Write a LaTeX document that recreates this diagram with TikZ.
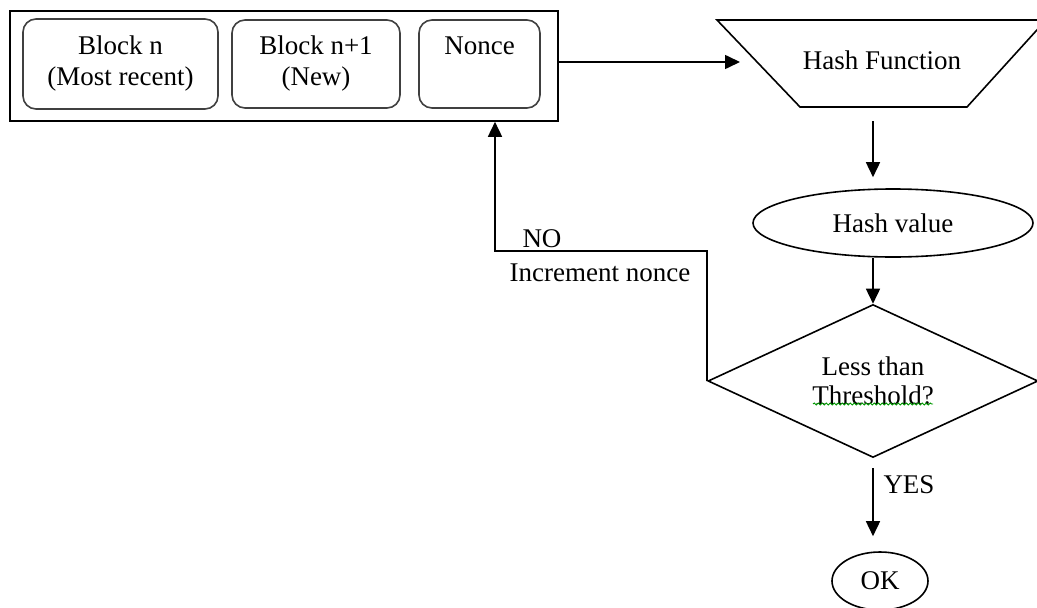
\documentclass[tikz,border=0pt]{standalone}
\usepackage{fontspec}
\setmainfont{Liberation Serif}
\usetikzlibrary{arrows.meta,shapes.geometric,decorations.pathmorphing}
\begin{document}
\begin{tikzpicture}[x=1pt,y=-1pt,
  font=\fontsize{27}{31}\selectfont,
  line/.style={line width=1.6pt, draw=black},
  arr/.style={line, -{Triangle[length=15pt,width=14pt]}},
  blockbox/.style={draw=black!75, line width=1.6pt, rounded corners=13pt,
    align=center, inner sep=0pt},
  oval/.style={line, ellipse, inner sep=0pt},
  label/.style={inner sep=0pt}
]
\useasboundingbox (0,0) rectangle (1037,608);
\clip (0,0) rectangle (1037,608);

% block group with its three members
\node[line, minimum width=548pt, minimum height=110pt, inner sep=0pt] (blocks) at (284,66) {};
\node[blockbox, minimum width=195pt, minimum height=90pt] (bn) at (120.5,64) {Block n\\(Most recent)};
\node[blockbox, minimum width=168pt, minimum height=88pt] (bn1) at (316,64) {Block n+1\\(New)};
\node[blockbox, minimum width=121pt, minimum height=88pt] (nonce) at (479.5,64) {Nonce\\\phantom{(New)}};

% hash function (inverted trapezoid)
\draw[line] (717,20) -- (1046,20) -- (967,107) -- (800,107) -- cycle;
\node[label] (hashfn) at (882,60) {Hash Function};
\coordinate (hfin) at (740,62);
\coordinate (hfout) at (873,121);

% hash value, decision, result
\node[oval, minimum width=280pt, minimum height=68pt] (hashval) at (893,223) {Hash value};
\node[line, diamond, aspect=2.157, minimum width=330pt, minimum height=153pt,
  inner sep=0pt, align=center, font=\fontsize{27}{29}\selectfont] (dec) at (873,381) {Less than\\Threshold?};
\node[oval, minimum width=96pt, minimum height=58pt] (ok) at (880,581) {OK};

% spell-check squiggle under the second line
\draw[green!60!black, line width=0.9pt, decorate,
  decoration={snake, amplitude=1pt, segment length=4pt}] (813,404) -- (933,404);

% connectors
\draw[arr] ([yshift=4pt]blocks.east) -- (hfin);
\draw[arr, shorten >=11pt] (hfout) -- (hfout |- hashval.north);
\draw[arr] (hfout |- hashval.south) -- (dec.north);
\coordinate (loop) at (495,251);
\draw[arr] (dec.west) |- (loop) -- (loop |- blocks.south);
\draw[arr, shorten <=10pt, shorten >=15pt] (dec.south) -- (dec.south |- ok.north);

% branch labels
\node[label] (no) at (542,239) {NO};
\node[label] (incr) at (600,273) {Increment nonce};
\node[label] (yes) at (909,485) {YES};
\end{tikzpicture}
\end{document}
